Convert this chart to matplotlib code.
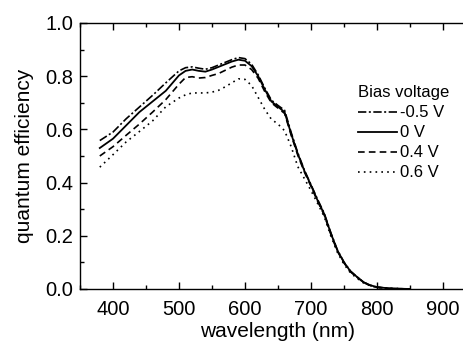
"""
Quantum efficiency vs wavelength for several bias voltages.

Saves the figure to ``out.png``.
"""

import matplotlib
matplotlib.use("Agg")  # non-interactive backend
import matplotlib.pyplot as plt
from matplotlib.ticker import MultipleLocator

plt.rcParams["font.family"] = ["Liberation Sans", "DejaVu Sans"]

# ── data ──
wavelength = [380, 400, 420, 440, 460, 480, 500, 510, 520, 530, 540, 550,
              560, 570, 580, 590, 600, 610, 620, 630, 640, 650, 660, 670,
              680, 690, 700, 710, 720, 730, 740, 750, 760, 770, 780, 790,
              800, 820, 850]

qe_m05 = [0.558, 0.590, 0.640, 0.684, 0.728, 0.775, 0.820, 0.832, 0.835,
          0.830, 0.826, 0.832, 0.842, 0.852, 0.862, 0.870, 0.866, 0.845,
          0.805, 0.755, 0.710, 0.690, 0.672, 0.588, 0.512, 0.447, 0.392,
          0.337, 0.285, 0.212, 0.147, 0.101, 0.067, 0.045, 0.025, 0.014,
          0.007, 0.002, 0.0]
qe_0 = [0.530, 0.565, 0.615, 0.665, 0.705, 0.745, 0.803, 0.820, 0.825,
        0.820, 0.817, 0.825, 0.835, 0.845, 0.855, 0.862, 0.858, 0.838,
        0.800, 0.750, 0.705, 0.685, 0.665, 0.583, 0.508, 0.444, 0.390,
        0.333, 0.282, 0.210, 0.145, 0.100, 0.066, 0.045, 0.025, 0.014,
        0.007, 0.002, 0.0]
qe_04 = [0.500, 0.535, 0.578, 0.620, 0.665, 0.712, 0.770, 0.795, 0.798,
         0.793, 0.795, 0.803, 0.810, 0.822, 0.834, 0.842, 0.842, 0.825,
         0.792, 0.742, 0.700, 0.680, 0.660, 0.578, 0.503, 0.440, 0.386,
         0.330, 0.279, 0.206, 0.142, 0.098, 0.064, 0.044, 0.024, 0.013,
         0.006, 0.002, 0.0]
qe_06 = [0.458, 0.505, 0.553, 0.592, 0.632, 0.685, 0.718, 0.730, 0.737,
         0.737, 0.737, 0.740, 0.747, 0.760, 0.775, 0.790, 0.788, 0.765,
         0.720, 0.675, 0.638, 0.620, 0.595, 0.535, 0.460, 0.415, 0.370,
         0.322, 0.272, 0.200, 0.138, 0.093, 0.060, 0.040, 0.022, 0.012,
         0.006, 0.002, 0.0]

labels = ["-0.5 V", "0 V", "0.4 V", "0.6 V"]


def main() -> None:
    fig = plt.figure(figsize=(4.64, 3.41), dpi=100)
    # right edge of the axes lies past the figure border, as in the original
    ax = fig.add_axes([0.1724, 0.1525, 0.8534, 0.7801])

    ax.plot(wavelength, qe_m05, color="black", lw=1.2,
            ls=(0, (5, 1.5, 1.2, 1.5)), label=labels[0])
    ax.plot(wavelength, qe_0, color="black", lw=1.3, ls="-", label=labels[1])
    ax.plot(wavelength, qe_04, color="black", lw=1.2, ls=(0, (4, 2.5)),
            label=labels[2])
    ax.plot(wavelength, qe_06, color="black", lw=1.2, ls=(0, (1, 2.5)),
            label=labels[3])

    ax.set_xlim(350, 950)
    ax.set_ylim(0, 1.0)
    ax.xaxis.set_major_locator(MultipleLocator(100))
    ax.xaxis.set_minor_locator(MultipleLocator(50))
    ax.yaxis.set_major_locator(MultipleLocator(0.2))
    ax.yaxis.set_minor_locator(MultipleLocator(0.1))
    ax.yaxis.set_major_formatter(plt.FormatStrFormatter("%.1f"))

    ax.tick_params(which="both", direction="in", top=True, right=False,
                   width=1.0, labelsize=14.5, pad=5)
    ax.tick_params(axis="x", which="both", pad=8)
    ax.tick_params(which="major", length=5)
    ax.tick_params(which="minor", length=3)
    for side in ("left", "bottom", "top"):
        ax.spines[side].set_linewidth(1.0)
    ax.spines["right"].set_visible(False)

    ax.set_xlabel("wavelength (nm)", fontsize=15, labelpad=2)
    ax.set_ylabel("quantum efficiency", fontsize=15, labelpad=8)

    ax.legend(title="Bias voltage", loc="upper left",
              bbox_to_anchor=(0.702, 0.765), frameon=False,
              fontsize=12, title_fontsize=12, borderpad=0,
              borderaxespad=0, handlelength=2.35, handletextpad=0.2,
              labelspacing=0.3, alignment="left")

    fig.savefig("out.png", dpi=100)
    plt.close(fig)


if __name__ == "__main__":
    main()
